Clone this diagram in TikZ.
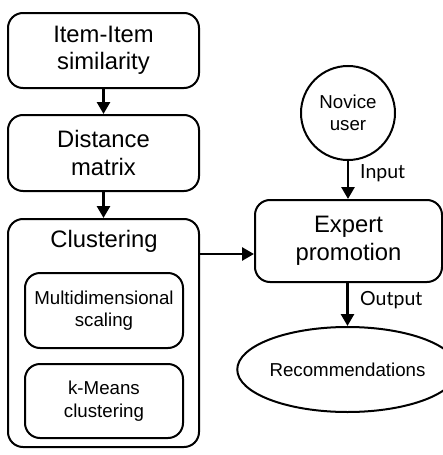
\documentclass[tikz,border=0pt]{standalone}
\usepackage{fontspec}
\setmainfont{Liberation Sans}
\newfontfamily\lblfont{Lato}
\usetikzlibrary{arrows.meta,shapes.geometric}
\begin{document}
\begin{tikzpicture}[x=1pt,y=-1pt,
  box/.style={draw, line width=2pt, rounded corners=15pt, align=center, inner sep=0pt},
  bigtxt/.style={font=\fontsize{23.8}{27.5}\selectfont},
  smtxt/.style={font=\fontsize{18.7}{22.5}\selectfont},
  arr/.style={line width=2.7pt, -{Triangle[length=12pt,width=13pt]}},
  lbl/.style={font=\lblfont\fontsize{19.5}{20}\selectfont, anchor=west, inner sep=0pt}]
\useasboundingbox (0,0) rectangle (443,455);
\node[box,bigtxt,minimum width=191pt,minimum height=75pt] (sim) at (103.5,50.5) {Item-Item\\similarity};
\node[box,bigtxt,minimum width=191pt,minimum height=76pt] (dist) at (103.5,153) {Distance\\matrix};
\node[box,minimum width=191pt,minimum height=228pt] (clus) at (103.5,333) {};
\node[bigtxt,anchor=center] (clt) at (104,241) {Clustering};
\node[box,smtxt,minimum width=158pt,minimum height=75pt] (mds) at (104,310.5) {Multidimensional\\scaling};
\node[box,smtxt,minimum width=158pt,minimum height=74pt] (km) at (104,401) {k-Means\\clustering};
\node[box,bigtxt,minimum width=187pt,minimum height=82pt] (exp) at (348.5,241) {Expert\\promotion};
\node[draw,circle,line width=2pt,smtxt,minimum size=94pt,inner sep=0pt,align=center] (nov) at (348,113) {Novice\\user};
\node[draw,ellipse,line width=2pt,smtxt,minimum width=189pt,minimum height=85pt,inner sep=0pt] (rec) at (347.5,369.5) {Recommendations};
\draw[arr] (sim.south) -- (dist.north);
\draw[arr] (dist.south) -- (clus.north);
\draw[arr] (clus.east |- 0,254) -- (exp.west |- 0,254);
\draw[arr] (nov.south) -- (exp.north -| nov.south);
\draw[arr] (exp.south -| rec.north) -- (rec.north);
\node[lbl] (in) at (360,173) {Input};
\node[lbl] (out) at (360,300) {Output};
\end{tikzpicture}
\end{document}
